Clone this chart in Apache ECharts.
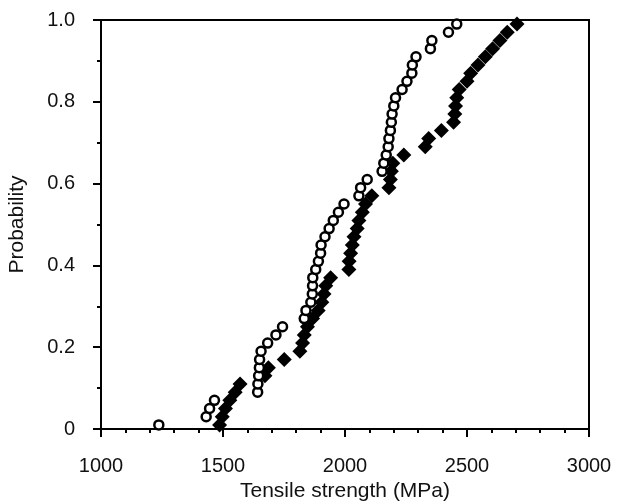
<!DOCTYPE html>
<html>
<head>
<meta charset="utf-8">
<script src="https://cdn.jsdelivr.net/npm/echarts@6/dist/echarts.min.js"></script>
<style>
  html, body { margin: 0; padding: 0; background: #fff; }
  #chart { width: 617px; height: 501px; }
</style>
</head>
<body>
<div id="chart"></div>
<script>
// plotting positions, shared by both data sets
var probability = [
  0.01, 0.03, 0.05, 0.07, 0.09, 0.11, 0.13, 0.15, 0.17, 0.19,
  0.21, 0.23, 0.25, 0.27, 0.29, 0.31, 0.33, 0.35, 0.37, 0.39,
  0.41, 0.43, 0.45, 0.47, 0.49, 0.51, 0.53, 0.55, 0.57, 0.59,
  0.61, 0.63, 0.65, 0.67, 0.69, 0.71, 0.73, 0.75, 0.77, 0.79,
  0.81, 0.83, 0.85, 0.87, 0.89, 0.91, 0.93, 0.95, 0.97, 0.99
];

// open circles (MPa)
var strengthCircles = [
  1237, 1431, 1445, 1465, 1642, 1643, 1646, 1649, 1650, 1656,
  1683, 1717, 1744, 1833, 1840, 1860, 1866, 1867, 1868, 1880,
  1891, 1900, 1902, 1918, 1935, 1952, 1973, 1996, 2057, 2064,
  2091, 2152, 2159, 2169, 2177, 2180, 2186, 2190, 2193, 2200,
  2207, 2234, 2254, 2274, 2276, 2291, 2350, 2356, 2424, 2458
];

// filled diamonds (MPa)
var strengthDiamonds = [
  1486, 1497, 1510, 1528, 1550, 1570, 1672, 1686, 1751, 1815,
  1826, 1833, 1846, 1867, 1890, 1905, 1914, 1921, 1941, 2016,
  2017, 2023, 2030, 2037, 2050, 2057, 2071, 2084, 2110, 2180,
  2186, 2190, 2196, 2241, 2329, 2343, 2395, 2445, 2450, 2453,
  2458, 2468, 2500, 2515, 2545, 2575, 2605, 2635, 2665, 2705
];

var xTicks = [1000, 3000, 500];   // min, max, interval
var yTicks = [0, 1, 0.2];

function pairs(xs, ys) {
  var out = [];
  for (var i = 0; i < xs.length; i++) out.push([xs[i], ys[i]]);
  return out;
}

var font = 'Liberation Sans, Arial, sans-serif';
var ink = '#000';
var chart = echarts.init(document.getElementById('chart'), null, { renderer: 'canvas' });

var option = {
  animation: false,
  backgroundColor: '#fff',
  grid: {
    left: 101, right: 28, top: 20, bottom: 72,
    outerBoundsMode: 'none', containLabel: false,
    show: true, borderColor: ink, borderWidth: 2, backgroundColor: 'transparent'
  },
  xAxis: {
    type: 'value',
    min: xTicks[0], max: xTicks[1], interval: xTicks[2],
    name: 'Tensile strength (MPa)',
    nameLocation: 'middle', nameGap: 47,
    nameTextStyle: { color: '#111', fontSize: 21, fontFamily: font },
    axisLine: { lineStyle: { color: ink, width: 2 } },
    axisTick: { length: 8, lineStyle: { color: ink, width: 2 } },
    minorTick: { show: true, splitNumber: 5, length: 4, lineStyle: { color: ink, width: 2 } },
    splitLine: { show: false },
    axisLabel: {
      color: '#111', fontSize: 20, fontFamily: font, margin: 27,
      formatter: function (v) { return String(v); }
    }
  },
  yAxis: {
    type: 'value',
    min: yTicks[0], max: yTicks[1], interval: yTicks[2],
    name: 'Probability',
    nameLocation: 'middle', nameGap: 73,
    nameTextStyle: { color: '#111', fontSize: 21, fontFamily: font },
    axisLine: { lineStyle: { color: ink, width: 2 } },
    axisTick: { length: 8, lineStyle: { color: ink, width: 2 } },
    minorTick: { show: true, splitNumber: 2, length: 4, lineStyle: { color: ink, width: 2 } },
    splitLine: { show: false },
    axisLabel: {
      color: '#111', fontSize: 20, fontFamily: font, margin: 26,
      formatter: function (v) { return v === 0 ? '0' : v.toFixed(1); }
    }
  },
  series: [
    {
      type: 'scatter',
      data: pairs(strengthDiamonds, probability),
      symbol: 'diamond',
      symbolSize: 15,
      itemStyle: { color: ink, opacity: 1 }
    },
    {
      type: 'scatter',
      data: pairs(strengthCircles, probability),
      symbol: 'circle',
      symbolSize: 9,
      itemStyle: { color: '#fff', borderColor: ink, borderWidth: 2.5, opacity: 1 }
    }
  ]
};

chart.setOption(option);
window.addEventListener('resize', function () {
  chart.resize();
});
</script>
</body>
</html>
